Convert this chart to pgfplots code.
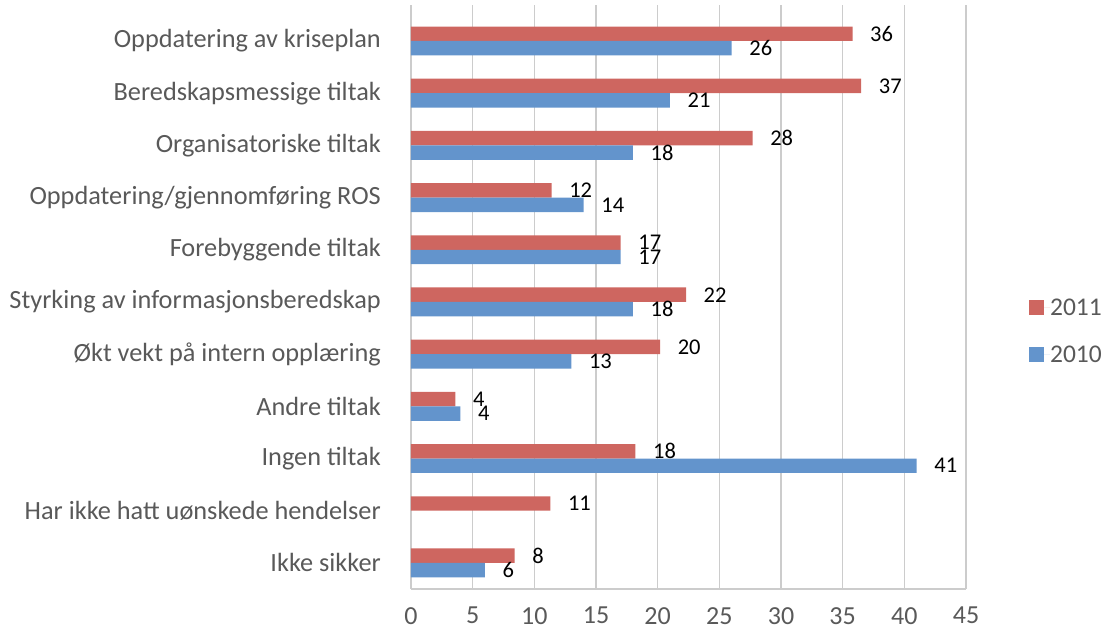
\documentclass[border=0pt]{standalone}
\usepackage{fontspec}
\setmainfont{Carlito}
\usepackage{pgfplots}
\pgfplotsset{compat=1.18}
\definecolor{bar11}{RGB}{206,102,96}
\definecolor{bar10}{RGB}{99,148,204}
\definecolor{gridgrey}{RGB}{204,204,204}
\definecolor{labelgrey}{RGB}{89,89,89}
\pgfplotsset{
	sq legend/.style={
		legend image code/.code={
			\fill[##1, draw=none] (0pt,-7.5pt) rectangle (15pt,7.5pt);
			\path (0pt,0pt) -- (21pt,0pt);
		},
	},
}

\begin{document}
\begin{tikzpicture}
\useasboundingbox (-411pt,-39pt) rectangle (691pt,589pt);
\begin{axis}[
	at={(0pt,0pt)}, anchor=south west,
	scale only axis, width=555pt, height=584pt,
	xbar, bar width=0.277,
	xmin=0, xmax=45, xtick={0,5,...,45},
	ymin=-0.5, ymax=10.69, ytick={0,...,10},
	yticklabels={Ikke sikker, Har ikke hatt uønskede hendelser, Ingen tiltak, Andre tiltak,
		Økt vekt på intern opplæring, Styrking av informasjonsberedskap, Forebyggende tiltak,
		Oppdatering/gjennomføring ROS, Organisatoriske tiltak, Beredskapsmessige tiltak,
		Oppdatering av kriseplan},
	axis x line*=bottom, axis y line*=left,
	axis line style={-, draw=gridgrey, line width=1.5pt},
	xmajorgrids, grid style={draw=gridgrey, line width=1.5pt},
	major tick length=0pt,
	/pgf/number format/assume math mode=true,
	xticklabel style={font=\fontsize{26}{30}\selectfont, text=labelgrey, inner sep=0pt, yshift=-18pt},
	yticklabel style={font=\fontsize{26.3}{30}\selectfont, text=labelgrey, inner sep=0pt, xshift=-30pt},
	nodes near coords, point meta=explicit symbolic,
	nodes near coords style={anchor=west, inner sep=0pt, xshift=17.5pt, font=\fontsize{22.5}{26}\selectfont, text=black},
	legend style={at={(1.108,0.442)}, anchor=west, draw=none, fill=none,
		font=\fontsize{25.5}{30}\selectfont, text=labelgrey, row sep=30pt,
		nodes={inner sep=0pt, text height=17pt, text depth=0pt}},
	legend cell align=left,
]
\addplot[fill=bar11, draw=none, bar shift=0.1385, sq legend] coordinates {
	(35.8,10)[36] (36.5,9)[37] (27.7,8)[28] (11.4,7)[12] (17.0,6)[17] (22.3,5)[22]
	(20.2,4)[20] (3.6,3)[4] (18.2,2)[18] (11.3,1)[11] (8.4,0)[8]
};
\addplot[fill=bar10, draw=none, bar shift=-0.1385, sq legend] coordinates {
	(26,10)[26] (21,9)[21] (18,8)[18] (14,7)[14] (17,6)[17] (18,5)[18]
	(13,4)[13] (4,3)[4] (41,2)[41] (6,0)[6]
};
\legend{2011, 2010}
\end{axis}
\end{tikzpicture}
\end{document}
